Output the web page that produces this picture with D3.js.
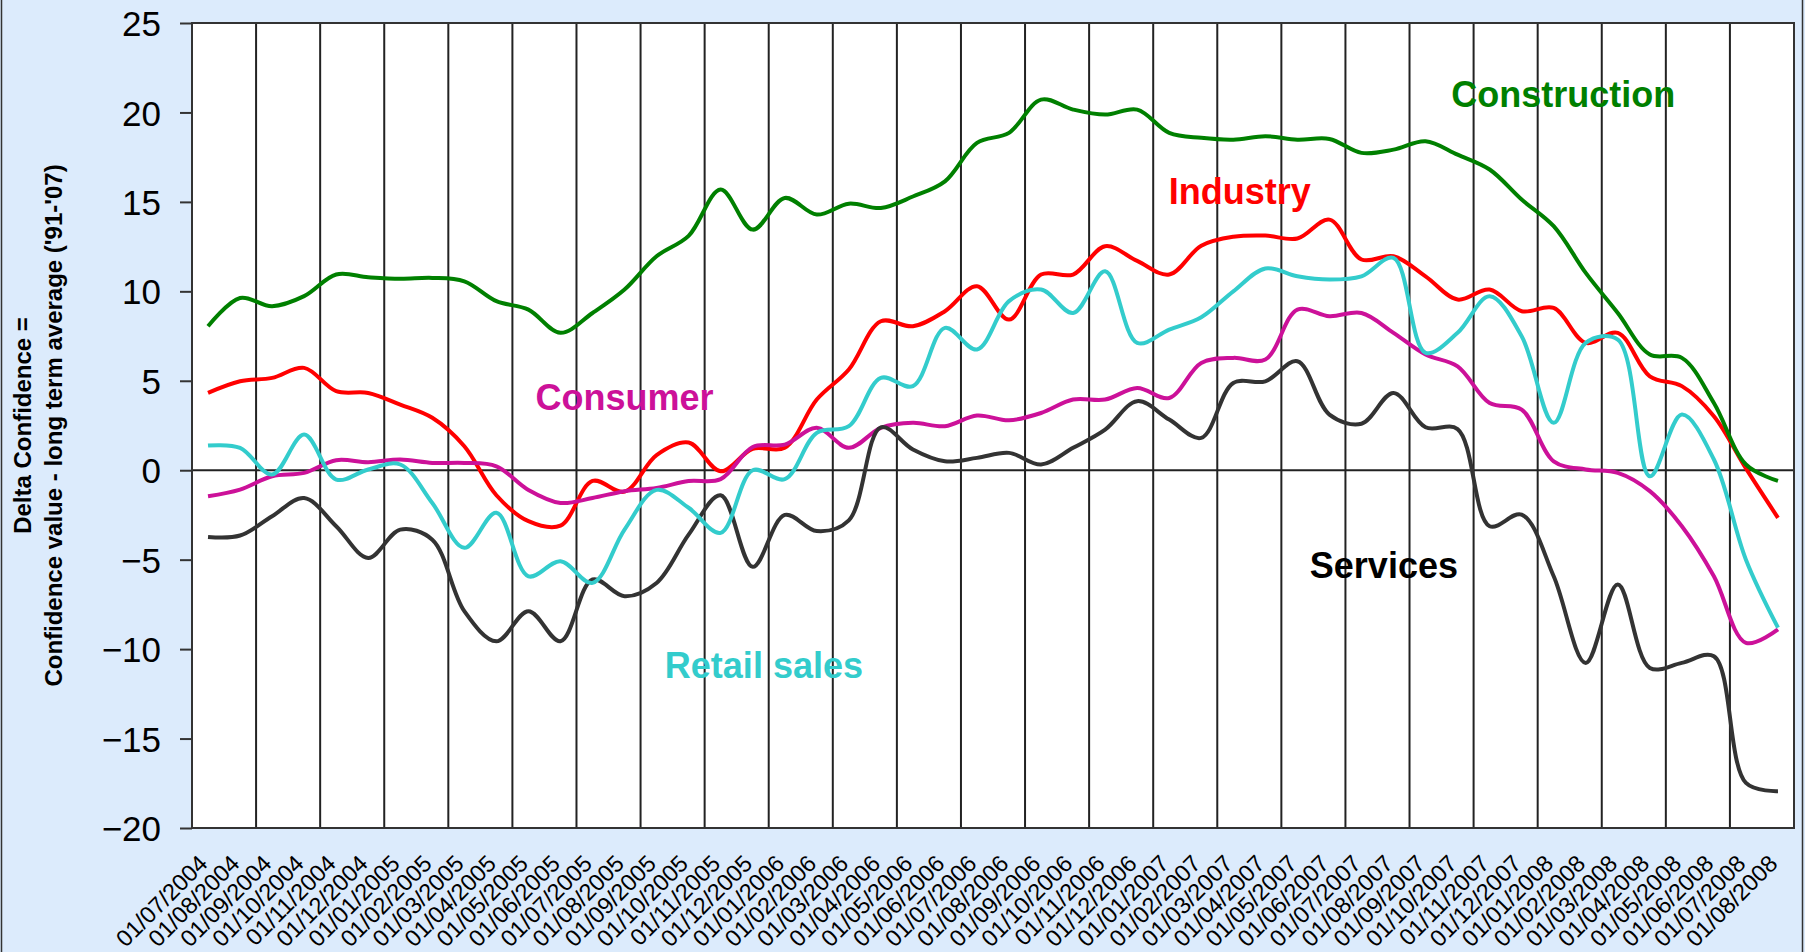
<!DOCTYPE html>
<html>
<head>
<meta charset="utf-8">
<script src="https://cdn.jsdelivr.net/npm/d3@7/dist/d3.min.js"></script>
<style>
  body { margin: 0; background: #dcebfc; }
  svg { display: block; font-family: "Liberation Sans", Arial, sans-serif; }
</style>
</head>
<body>
<div id="chart"></div>
<script>
// month labels on the category axis
var months = [
  "01/07/2004","01/08/2004","01/09/2004","01/10/2004","01/11/2004","01/12/2004",
  "01/01/2005","01/02/2005","01/03/2005","01/04/2005","01/05/2005","01/06/2005",
  "01/07/2005","01/08/2005","01/09/2005","01/10/2005","01/11/2005","01/12/2005",
  "01/01/2006","01/02/2006","01/03/2006","01/04/2006","01/05/2006","01/06/2006",
  "01/07/2006","01/08/2006","01/09/2006","01/10/2006","01/11/2006","01/12/2006",
  "01/01/2007","01/02/2007","01/03/2007","01/04/2007","01/05/2007","01/06/2007",
  "01/07/2007","01/08/2007","01/09/2007","01/10/2007","01/11/2007","01/12/2007",
  "01/01/2008","01/02/2008","01/03/2008","01/04/2008","01/05/2008","01/06/2008",
  "01/07/2008","01/08/2008"
];

var yTicks = [-20, -15, -10, -5, 0, 5, 10, 15, 20, 25];

var construction = [8.05, 9.63, 9.17, 9.73, 10.94, 10.79, 10.7, 10.75, 10.56, 9.45,
  8.98, 7.68, 8.79, 10.1, 11.96, 13.1, 15.69, 13.45, 15.22, 14.29,
  14.9, 14.66, 15.3, 16.15, 18.3, 18.86, 20.72, 20.16, 19.88, 20.16,
  18.86, 18.58, 18.48, 18.67, 18.48, 18.52, 17.74, 17.92, 18.39, 17.64,
  16.81, 15.13, 13.64, 11.03, 8.79, 6.47, 6.28, 3.76, 0.32, -0.6];

var industry = [4.32, 4.97, 5.16, 5.72, 4.42, 4.32, 3.67, 2.93, 1.34, -1.4,
  -2.85, -3.1, -0.6, -1.2, 0.85, 1.55, -0.06, 1.2, 1.25, 3.95,
  5.63, 8.33, 8.05, 8.89, 10.29, 8.42, 10.94, 10.94, 12.52, 11.7,
  10.94, 12.55, 13.05, 13.12, 12.95, 14.01, 11.78, 11.96, 10.84, 9.54,
  10.1, 8.89, 9.07, 7.12, 7.68, 5.25, 4.7, 3.02, 0.1, -2.66];

var retail = [1.38, 1.25, -0.24, 1.99, -0.52, 0.04, 0.32, -1.83, -4.34, -2.38,
  -5.93, -5.09, -6.3, -3.32, -1.1, -2.1, -3.5, 0.0, -0.5, 2.09,
  2.46, 5.16, 4.7, 7.96, 6.75, 9.45, 10.1, 8.79, 11.12, 7.12,
  7.86, 8.55, 10.0, 11.28, 10.84, 10.66, 10.84, 11.87, 6.56, 7.68,
  9.73, 7.49, 2.65, 7.12, 7.3, -0.34, 3.11, 0.6, -5.0, -8.8];

var consumer = [-1.45, -1.08, -0.34, -0.15, 0.56, 0.45, 0.6, 0.41, 0.41, 0.22,
  -1.1, -1.83, -1.55, -1.17, -0.99, -0.6, -0.5, 1.3, 1.43, 2.37,
  1.25, 2.37, 2.65, 2.46, 3.06, 2.79, 3.2, 3.95, 3.95, 4.6,
  4.04, 6.0, 6.28, 6.19, 8.98, 8.61, 8.79, 7.68, 6.47, 5.81,
  3.76, 3.39, 0.5, 0.04, -0.15, -1.17, -3.13, -5.93, -9.65, -8.9];

var services = [-3.73, -3.65, -2.57, -1.55, -3.13, -4.9, -3.32, -3.88, -7.88, -9.56,
  -7.88, -9.56, -6.11, -7.04, -6.3, -3.6, -1.4, -5.4, -2.5, -3.4,
  -2.8, 2.4, 1.16, 0.5, 0.69, 0.97, 0.32, 1.25, 2.27, 3.86,
  2.83, 1.81, 4.88, 4.97, 6.09, 3.11, 2.6, 4.32, 2.4, 2.3,
  -3.13, -2.48, -5.93, -10.77, -6.39, -11.05, -10.77, -10.4, -17.48, -17.94];

// series, drawn in this order
var series = [
  {name: "Industry", values: industry, color: "#ff0000"},
  {name: "Consumer", values: consumer, color: "#cc1199"},
  {name: "Services", values: services, color: "#333333"},
  {name: "Retail sales", values: retail, color: "#33cccc"},
  {name: "Construction", values: construction, color: "#008000"}
];

// in-chart series names (pos = month index, value = baseline on y scale)
var labels = [
  {text: "Construction", pos: 42.3, value: 20.3, color: "#008000"},
  {text: "Industry", pos: 32.2, value: 14.9, color: "#ff0000"},
  {text: "Consumer", pos: 13.0, value: 3.37, color: "#cc1199"},
  {text: "Retail sales", pos: 17.35, value: -11.6, color: "#33cccc"},
  {text: "Services", pos: 36.7, value: -6.0, color: "#000000"}
];

var W = 1805, H = 952;
var plot = {left: 192, top: 23, right: 1794, bottom: 828};

var svg = d3.select("#chart").append("svg")
    .attr("width", W)
    .attr("height", H);

// background + outer frame
svg.append("rect")
    .attr("x", 1.5).attr("y", -10)
    .attr("width", W - 4).attr("height", H + 20)
    .attr("fill", "#dcebfc")
    .attr("stroke", "#333")
    .attr("stroke-width", 1.5);

var x = d3.scaleBand().domain(months).range([plot.left, plot.right]).padding(0);
var y = d3.scaleLinear().domain([-20, 25]).range([plot.bottom, plot.top]);
var bw = x.bandwidth();

// plot area
svg.append("rect")
    .attr("x", plot.left).attr("y", plot.top)
    .attr("width", plot.right - plot.left)
    .attr("height", plot.bottom - plot.top)
    .attr("fill", "#ffffff");

// vertical gridlines every second month
svg.append("g").selectAll("line")
    .data(months.filter(function(d, i) { return i % 2 == 0 && i > 0; }))
  .enter().append("line")
    .attr("x1", function(d) { return x(d); })
    .attr("x2", function(d) { return x(d); })
    .attr("y1", plot.top).attr("y2", plot.bottom)
    .attr("stroke", "#222")
    .attr("stroke-width", 2);

// zero line
svg.append("line")
    .attr("x1", plot.left).attr("x2", plot.right)
    .attr("y1", y(0)).attr("y2", y(0))
    .attr("stroke", "#222")
    .attr("stroke-width", 2);

// Y axis
var yAxis = svg.append("g")
    .attr("transform", "translate(" + plot.left + ",0)")
    .call(d3.axisLeft(y).tickValues(yTicks).tickSize(12).tickPadding(19));
yAxis.attr("font-size", 35).attr("font-family", "'Liberation Sans', Arial, sans-serif");
yAxis.select(".domain").remove();
yAxis.selectAll(".tick line").attr("stroke", "#333").attr("stroke-width", 2);
yAxis.selectAll(".tick text")
    .attr("dy", "0.36em")
    .style("font-size", "35px")
    .attr("fill", "#000");

// X axis, rotated month labels
var xAxis = svg.append("g")
    .attr("transform", "translate(0," + plot.bottom + ")")
    .call(d3.axisBottom(x).tickSize(0));
xAxis.attr("font-size", 23.5).attr("font-family", "'Liberation Sans', Arial, sans-serif");
xAxis.select(".domain").remove();
xAxis.selectAll(".tick text")
    .attr("x", 0).attr("y", 0).attr("dy", 0)
    .attr("transform", "translate(1,37) rotate(-45)")
    .style("text-anchor", "end")
    .style("font-size", "23.5px")
    .attr("fill", "#000");

// lines
var line = d3.line()
    .x(function(d, i) { return x(months[i]) + bw / 2; })
    .y(function(d) { return y(d); })
    .curve(d3.curveCatmullRom.alpha(0.5));

svg.append("g").selectAll("path")
    .data(series)
  .enter().append("path")
    .attr("d", function(s) { return line(s.values); })
    .attr("fill", "none")
    .attr("stroke", function(s) { return s.color; })
    .attr("stroke-width", 4)
    .attr("stroke-linejoin", "round");

// plot border
svg.append("rect")
    .attr("x", plot.left).attr("y", plot.top)
    .attr("width", plot.right - plot.left)
    .attr("height", plot.bottom - plot.top)
    .attr("fill", "none")
    .attr("stroke", "#333")
    .attr("stroke-width", 2);

// series names
svg.append("g").selectAll("text")
    .data(labels)
  .enter().append("text")
    .attr("x", function(d) { return plot.left + x.step() * (d.pos + 0.5); })
    .attr("y", function(d) { return y(d.value); })
    .attr("text-anchor", "middle")
    .attr("fill", function(d) { return d.color; })
    .style("font-size", "36px")
    .style("font-weight", "bold")
    .text(function(d) { return d.text; });

// y axis title, two lines
var title = svg.append("text")
    .attr("transform", "translate(0," + ((plot.top + plot.bottom) / 2) + ") rotate(-90)")
    .attr("text-anchor", "middle")
    .style("font-size", "24px")
    .style("font-weight", "bold");
title.append("tspan").attr("x", 0).attr("y", 31).text("Delta Confidence =");
title.append("tspan").attr("x", 0).attr("y", 62).text("Confidence value - long term average ('91-'07)");
</script>
</body>
</html>
